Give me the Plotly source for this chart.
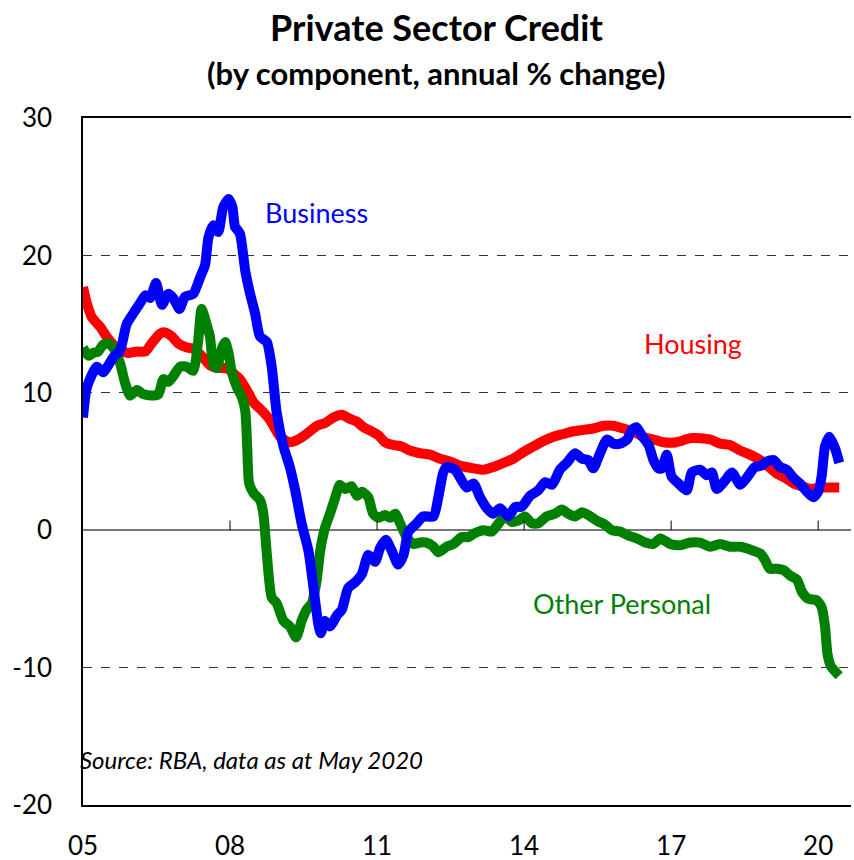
import plotly.graph_objects as go

# Business credit (annual % change)
business_t = [2005.0, 2005.08, 2005.28, 2005.41, 2005.62, 2005.76, 2005.89, 2006.03, 2006.16, 2006.27,
              2006.37, 2006.49, 2006.61, 2006.74, 2006.84, 2006.97, 2007.08, 2007.25, 2007.39, 2007.49,
              2007.56, 2007.66, 2007.76, 2007.86, 2007.97, 2008.05, 2008.10, 2008.2, 2008.31, 2008.41,
              2008.51, 2008.61, 2008.75, 2008.85, 2008.95, 2009.09, 2009.22, 2009.33, 2009.46, 2009.6,
              2009.7, 2009.8, 2009.85, 2009.94, 2010.04, 2010.18, 2010.28, 2010.41, 2010.55, 2010.69,
              2010.82, 2010.96, 2011.06, 2011.18, 2011.3, 2011.43, 2011.54, 2011.64, 2011.81, 2011.94,
              2012.15, 2012.25, 2012.35, 2012.42, 2012.59, 2012.73, 2012.83, 2012.97, 2013.1, 2013.24,
              2013.37, 2013.51, 2013.68, 2013.82, 2013.95, 2014.12, 2014.29, 2014.43, 2014.57, 2014.73,
              2014.87, 2015.04, 2015.18, 2015.31, 2015.41, 2015.55, 2015.69, 2015.82, 2015.96, 2016.1,
              2016.2, 2016.29, 2016.4, 2016.54, 2016.64, 2016.74, 2016.81, 2016.91, 2017.01, 2017.15,
              2017.32, 2017.42, 2017.59, 2017.73, 2017.83, 2017.93, 2018.1, 2018.24, 2018.41, 2018.54,
              2018.71, 2018.85, 2018.95, 2019.09, 2019.22, 2019.36, 2019.5, 2019.63, 2019.77, 2019.9,
              2020.0, 2020.07, 2020.14, 2020.23, 2020.35, 2020.43]
business = [8.2, 10.4, 11.9, 11.5, 12.6, 13.1, 15.0, 15.8, 16.5, 17.1,
            16.9, 18.0, 16.4, 17.2, 16.9, 16.1, 17.0, 17.2, 18.4, 19.3,
            21.3, 22.2, 21.7, 23.5, 24.1, 23.5, 22.1, 21.6, 18.9, 17.2,
            15.8, 14.1, 13.7, 11.9, 8.6, 6.1, 4.6, 2.9, 0.5, -1.5,
            -4.1, -6.8, -7.5, -6.6, -7.0, -6.2, -5.8, -4.2, -3.8, -3.2,
            -1.8, -2.3, -1.3, -0.7, -1.5, -2.5, -1.8, -0.1, 0.5, 1.0,
            1.0, 2.4, 4.2, 4.6, 4.4, 3.6, 3.1, 3.4, 2.4, 1.6,
            1.2, 1.6, 1.0, 1.7, 1.7, 2.5, 2.9, 3.5, 3.3, 4.4,
            4.9, 5.6, 5.2, 5.1, 4.5, 5.6, 6.6, 6.3, 6.3, 6.6,
            7.3, 7.5, 6.9, 6.2, 5.1, 4.5, 4.5, 5.5, 3.9, 3.4,
            2.9, 4.2, 4.4, 4.0, 4.2, 3.0, 3.6, 4.2, 3.3, 3.8,
            4.6, 4.7, 5.0, 5.1, 4.6, 4.4, 3.8, 3.4, 2.8, 2.4,
            2.8, 3.9, 6.1, 6.8, 5.9, 4.9]

# Housing credit
housing_t = [2005.0, 2005.08, 2005.18, 2005.35, 2005.48, 2005.62, 2005.76, 2005.92, 2006.1, 2006.27,
             2006.4, 2006.57, 2006.67, 2006.81, 2006.94, 2007.12, 2007.25, 2007.42, 2007.59, 2007.76,
             2007.93, 2008.07, 2008.2, 2008.34, 2008.48, 2008.65, 2008.82, 2009.02, 2009.22, 2009.39,
             2009.56, 2009.77, 2009.94, 2010.11, 2010.28, 2010.45, 2010.59, 2010.72, 2010.89, 2011.03,
             2011.16, 2011.33, 2011.5, 2011.67, 2011.88, 2012.08, 2012.29, 2012.49, 2012.69, 2012.97,
             2013.17, 2013.37, 2013.58, 2013.78, 2013.99, 2014.19, 2014.4, 2014.6, 2014.8, 2015.01,
             2015.21, 2015.41, 2015.62, 2015.82, 2016.03, 2016.23, 2016.43, 2016.64, 2016.84, 2017.11,
             2017.39, 2017.59, 2017.8, 2018.0, 2018.2, 2018.41, 2018.61, 2018.82, 2018.99, 2019.16,
             2019.33, 2019.5, 2019.67, 2019.84, 2020.04, 2020.24, 2020.43]
housing = [17.7, 16.5, 15.5, 14.8, 14.1, 13.5, 13.1, 12.9, 13.0, 13.0,
           13.6, 14.3, 14.4, 14.1, 13.6, 13.3, 13.2, 12.7, 12.0, 11.8,
           11.8, 11.4, 11.0, 10.2, 9.3, 8.7, 8.0, 6.8, 6.4, 6.6,
           7.0, 7.6, 7.8, 8.2, 8.4, 8.1, 7.9, 7.5, 7.2, 6.9,
           6.4, 6.2, 6.1, 5.8, 5.6, 5.5, 5.2, 5.0, 4.7, 4.5,
           4.4, 4.6, 4.9, 5.2, 5.7, 6.1, 6.5, 6.8, 7.0, 7.2,
           7.3, 7.4, 7.6, 7.6, 7.4, 7.2, 6.8, 6.6, 6.4, 6.4,
           6.7, 6.7, 6.6, 6.3, 6.2, 5.8, 5.5, 5.1, 4.6, 4.1,
           3.8, 3.4, 3.2, 3.0, 3.1, 3.1, 3.1]

# Other personal credit
personal_t = [2005.0, 2005.11, 2005.21, 2005.31, 2005.41, 2005.52, 2005.65, 2005.76, 2005.86, 2005.96,
              2006.1, 2006.23, 2006.4, 2006.54, 2006.64, 2006.74, 2006.84, 2006.98, 2007.12, 2007.25,
              2007.35, 2007.42, 2007.52, 2007.59, 2007.66, 2007.73, 2007.83, 2007.9, 2007.97, 2008.03,
              2008.14, 2008.24, 2008.31, 2008.35, 2008.39, 2008.48, 2008.61, 2008.68, 2008.75, 2008.85,
              2008.95, 2009.09, 2009.22, 2009.35, 2009.46, 2009.56, 2009.67, 2009.77, 2009.84, 2009.94,
              2010.04, 2010.14, 2010.24, 2010.35, 2010.48, 2010.59, 2010.69, 2010.82, 2010.92, 2011.03,
              2011.16, 2011.27, 2011.37, 2011.47, 2011.6, 2011.74, 2011.88, 2012.01, 2012.15, 2012.25,
              2012.42, 2012.56, 2012.73, 2012.86, 2013.0, 2013.17, 2013.34, 2013.48, 2013.61, 2013.75,
              2013.88, 2014.02, 2014.16, 2014.29, 2014.46, 2014.63, 2014.77, 2014.9, 2015.04, 2015.18,
              2015.31, 2015.48, 2015.65, 2015.79, 2015.96, 2016.13, 2016.3, 2016.47, 2016.64, 2016.78,
              2016.98, 2017.18, 2017.39, 2017.59, 2017.8, 2018.0, 2018.2, 2018.41, 2018.61, 2018.82,
              2018.92, 2019.01, 2019.16, 2019.29, 2019.43, 2019.57, 2019.67, 2019.8, 2019.97, 2020.07,
              2020.14, 2020.19, 2020.26, 2020.35, 2020.43]
personal = [13.3, 12.7, 12.9, 13.0, 13.5, 13.6, 13.1, 12.1, 10.7, 9.8,
            10.2, 9.9, 9.8, 9.9, 11.0, 10.8, 11.2, 11.9, 11.9, 11.6,
            13.8, 16.1, 15.0, 14.1, 12.0, 11.8, 13.2, 13.7, 12.9, 11.6,
            10.4, 9.7, 8.7, 6.1, 3.4, 2.7, 2.2, 1.2, -1.7, -4.9,
            -5.3, -6.6, -7.0, -7.8, -6.6, -5.8, -5.3, -3.6, -1.5, 0.2,
            1.2, 2.3, 3.3, 3.0, 3.2, 2.5, 2.8, 2.4, 1.2, 0.9,
            1.1, 0.9, 1.2, 0.5, -0.5, -1.0, -0.9, -0.9, -1.2, -1.6,
            -1.2, -1.0, -0.5, -0.5, -0.2, 0.0, -0.1, 0.5, 1.0, 0.6,
            0.7, 1.0, 0.5, 0.5, 1.0, 1.2, 1.5, 1.2, 1.0, 1.3,
            1.1, 0.7, 0.4, 0.0, -0.1, -0.4, -0.6, -0.9, -1.0, -0.6,
            -1.0, -1.1, -0.9, -0.9, -1.2, -1.0, -1.2, -1.2, -1.4, -1.7,
            -2.2, -2.8, -2.8, -2.9, -3.3, -3.6, -4.5, -5.0, -5.1, -5.6,
            -7.0, -9.0, -9.9, -10.3, -10.6]

tick_years = [2005, 2008, 2011, 2014, 2017, 2020]
tick_text = ["05", "08", "11", "14", "17", "20"]
y_ticks = [-20, -10, 0, 10, 20, 30]
y_tick_text = ["-20", "-10", "0", "10", "20", "30"]

FONT = "Lato"
LINE_W = 10

fig = go.Figure()

fig.add_trace(go.Scatter(x=housing_t, y=housing, mode="lines", name="Housing",
                         line=dict(color="#ff0000", width=LINE_W, shape="spline", smoothing=0.6)))
fig.add_trace(go.Scatter(x=personal_t, y=personal, mode="lines", name="Other Personal",
                         line=dict(color="#008000", width=LINE_W, shape="spline", smoothing=0.6)))
fig.add_trace(go.Scatter(x=business_t, y=business, mode="lines", name="Business",
                         line=dict(color="#0000ff", width=LINE_W, shape="spline", smoothing=0.6)))

# small tick marks sitting on the zero line
for t in tick_years[1:]:
    fig.add_shape(type="line", x0=t, x1=t, y0=0, y1=0.7, xref="x", yref="y",
                  line=dict(color="black", width=1))

# series labels
fig.add_annotation(x=2009.76, y=23.1, text="Business", showarrow=False,
                   font=dict(color="#0000ff", size=27, family=FONT))
fig.add_annotation(x=2017.45, y=13.6, text="Housing", showarrow=False,
                   font=dict(color="#ff0000", size=27, family=FONT))
fig.add_annotation(x=2016.0, y=-5.3, text="Other Personal", showarrow=False,
                   font=dict(color="#008000", size=27, family=FONT))
fig.add_annotation(x=-0.007, xref="paper", xanchor="left", y=-16.7,
                   text="<i>Source: RBA, data as at May 2020</i>", showarrow=False,
                   font=dict(color="black", size=24, family=FONT))

# title and subtitle
fig.add_annotation(x=0.46, xref="paper", y=1.133, yref="paper", yanchor="middle",
                   text="<b>Private Sector Credit</b>", showarrow=False,
                   font=dict(size=36, family=FONT, color="black"))
fig.add_annotation(x=0.46, xref="paper", y=1.065, yref="paper", yanchor="middle",
                   text="<b>(by component, annual % change)</b>", showarrow=False,
                   font=dict(size=31, family=FONT, color="black"))

fig.update_layout(
    width=854,
    height=860,
    showlegend=False,
    paper_bgcolor="white",
    plot_bgcolor="white",
    margin=dict(l=83, r=3, t=118, b=55),
    font=dict(family=FONT, size=26, color="black"),
)

fig.update_xaxes(
    range=[2005, 2020.67],
    tickvals=tick_years,
    ticktext=tick_text,
    showgrid=False,
    zeroline=False,
    showline=True,
    linecolor="black",
    linewidth=1.5,
    mirror=True,
    ticks="",
    automargin=False,
    ticklabelstandoff=17,
    tickfont=dict(size=26, family=FONT),
)
fig.update_yaxes(
    range=[-20, 30],
    tickvals=y_ticks,
    ticktext=y_tick_text,
    showgrid=True,
    gridcolor="#333333",
    griddash="dash",
    gridwidth=1,
    zeroline=True,
    zerolinecolor="#777777",
    zerolinewidth=2,
    showline=True,
    linecolor="black",
    linewidth=1.5,
    ticks="",
    automargin=False,
    ticklabelstandoff=24,
    tickfont=dict(size=26, family=FONT),
)

# page body has a default 8px margin; drop it so the figure sits at the corner
fig.write_html("out.html", config={"displayModeBar": False},
               post_script="document.body.style.margin='0px';")
